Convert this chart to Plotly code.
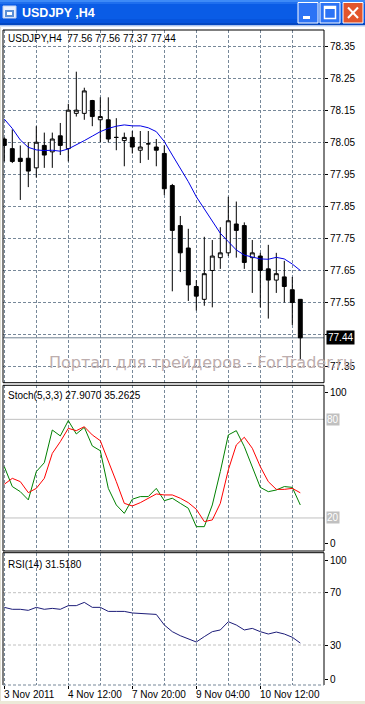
import plotly.graph_objects as go

W, H = 365, 704

# ---------------- data ----------------
bar_index = list(range(38))
opens = [78.06, 78.03, 78.00, 78.00, 77.97, 78.04, 78.02, 78.07, 78.03, 78.14,
         78.14, 78.18, 78.12, 78.12, 78.065, 78.055, 78.065, 78.025, 78.045, 78.035,
         78.015, 77.915, 77.79, 77.72, 77.60, 77.56, 77.65, 77.69, 77.705, 77.795,
         77.79, 77.69, 77.695, 77.655, 77.62, 77.63, 77.59, 77.56]
highs = [78.065, 78.09, 78.04, 78.05, 78.10, 78.08, 78.08, 78.11, 78.17, 78.27,
         78.22, 78.182, 78.19, 78.19, 78.125, 78.08, 78.085, 78.085, 78.085, 78.06,
         78.04, 77.92, 77.82, 77.78, 77.62, 77.755, 77.745, 77.785, 77.88, 77.865,
         77.80, 77.745, 77.705, 77.73, 77.705, 77.68, 77.63, 77.56]
lows = [77.99, 77.985, 77.87, 77.91, 77.94, 77.97, 77.97, 78.01, 77.99, 78.13,
        78.12, 78.10, 78.05, 78.05, 78.025, 77.975, 78.015, 77.985, 77.995, 77.975,
        77.885, 77.585, 77.645, 77.555, 77.525, 77.54, 77.535, 77.655, 77.695, 77.69,
        77.655, 77.58, 77.535, 77.50, 77.58, 77.55, 77.48, 77.37]
closes = [78.04, 77.99, 77.99, 77.96, 78.05, 78.01, 78.06, 78.04, 78.15, 78.15,
          78.21, 78.13, 78.13, 78.06, 78.065, 78.065, 78.035, 78.035, 78.045, 78.025,
          77.905, 77.775, 77.705, 77.605, 77.57, 77.64, 77.695, 77.705, 77.805, 77.775,
          77.675, 77.705, 77.65, 77.62, 77.64, 77.60, 77.55, 77.44]
ma_values = [78.122, 78.093, 78.057, 78.034, 78.026, 78.024, 78.025, 78.022, 78.029, 78.041,
             78.055, 78.069, 78.083, 78.093, 78.100, 78.104, 78.101, 78.101, 78.095, 78.083,
             78.052, 78.010, 77.969, 77.927, 77.880, 77.842, 77.802, 77.766, 77.740, 77.714,
             77.698, 77.693, 77.686, 77.685, 77.691, 77.686, 77.670, 77.650]
stoch_main = [51.2, 39.1, 36.0, 31.0, 48.2, 53.6, 73.5, 69.9, 79.2, 71.1,
              75.1, 63.8, 60.9, 38.0, 27.9, 22.8, 31.4, 33.0, 33.0, 38.0,
              30.5, 32.0, 28.9, 25.9, 14.7, 14.7, 27.9, 48.2, 70.5, 73.1,
              63.4, 51.2, 38.6, 36.0, 37.0, 39.1, 38.6, 27.9]
stoch_signal = [40.5, 44.1, 42.1, 35.4, 38.0, 44.1, 59.3, 66.4, 74.5, 73.1,
                75.5, 70.5, 67.0, 54.9, 42.1, 28.9, 27.3, 29.3, 32.0, 34.6,
                34.0, 34.0, 32.0, 29.3, 25.3, 17.8, 18.8, 28.9, 49.2, 64.4,
                69.1, 62.4, 51.2, 42.1, 37.4, 37.4, 38.0, 35.3]
rsi_values = [58.8, 57.3, 57.3, 56.5, 58.8, 57.3, 58.0, 57.3, 60.1, 60.1,
              62.6, 58.8, 58.8, 55.7, 55.7, 55.7, 54.5, 54.2, 54.2, 53.4,
              45.3, 40.2, 37.1, 34.6, 32.3, 36.4, 40.2, 41.5, 47.8, 45.3,
              41.5, 42.7, 40.2, 38.4, 39.9, 38.4, 35.9, 31.5]
stoch_levels = [80, 20]
rsi_levels = [70, 30]
time_tick_index = [0, 8, 16, 24, 32]
time_tick_labels = ["3 Nov 2011", "4 Nov 12:00", "7 Nov 20:00", "9 Nov 04:00", "10 Nov 12:00"]
grid_index = [0, 4, 8, 12, 16, 20, 24, 28, 32, 36]
price_ticks = [78.35, 78.25, 78.15, 78.05, 77.95, 77.85, 77.75, 77.65, 77.55, 77.45, 77.35]
price_tick_labels = ["78.35", "78.25", "78.15", "78.05", "77.95", "77.85", "77.75", "77.65", "77.55", "", "77.35"]
symbol_title = "USDJPY ,H4"
main_header = "USDJPY,H4\u00a0\u00a0{:.2f} {:.2f} {:.2f} {:.2f}".format(opens[-1], highs[-1], lows[-1], closes[-1])
stoch_header = "Stoch(5,3,3) 27.9070 35.2625"
rsi_header = "RSI(14) 31.5180"
watermark = "Портал для трейдеров - ForTrader.ru"

# ---------------- helpers ----------------
def px(a):
    return a / W


def py(a):
    return 1 - a / H


FONT = "Liberation Sans"
GRID = "#778899"
DASH = "3px,2px"

X0, X1 = 3, 324
MAIN = (30, 382.7)
STO = (385.3, 551)
RSI = (552.7, 685)

fig = go.Figure()

fig.add_trace(go.Candlestick(
    x=bar_index, open=opens, high=highs, low=lows, close=closes,
    increasing=dict(line=dict(color="black", width=1), fillcolor="white"),
    decreasing=dict(line=dict(color="black", width=1), fillcolor="black"),
    xaxis="x", yaxis="y", showlegend=False, hoverinfo="skip"))
fig.add_trace(go.Scatter(x=bar_index, y=ma_values, mode="lines",
                         line=dict(color="#0000e6", width=1), xaxis="x", yaxis="y",
                         showlegend=False, hoverinfo="skip"))
fig.add_trace(go.Scatter(x=bar_index, y=stoch_main, mode="lines",
                         line=dict(color="#008000", width=1), xaxis="x2", yaxis="y2",
                         showlegend=False, hoverinfo="skip"))
fig.add_trace(go.Scatter(x=bar_index, y=stoch_signal, mode="lines",
                         line=dict(color="#ff0000", width=1), xaxis="x2", yaxis="y2",
                         showlegend=False, hoverinfo="skip"))
fig.add_trace(go.Scatter(x=bar_index, y=rsi_values, mode="lines",
                         line=dict(color="#1c1c78", width=1), xaxis="x3", yaxis="y3",
                         showlegend=False, hoverinfo="skip"))

xrange = [-0.1625, 39.9625]
xcommon = dict(domain=[px(X0), px(X1)], range=xrange, showticklabels=False,
               tickmode="array", tickvals=grid_index, ticks="", showgrid=True,
               gridcolor=GRID, griddash=DASH, gridwidth=1, zeroline=False,
               showline=False, fixedrange=True)

fig.update_layout(
    width=W, height=H, margin=dict(l=0, r=0, t=0, b=0),
    paper_bgcolor="white", plot_bgcolor="white", showlegend=False,
    font=dict(family=FONT, size=10, color="black"),
    xaxis=dict(**xcommon, anchor="y", rangeslider=dict(visible=False)),
    xaxis2=dict(**xcommon, anchor="y2", matches="x"),
    xaxis3=dict(domain=[px(X0), px(X1)], range=xrange, anchor="y3", matches="x",
                showticklabels=False, tickmode="array", tickvals=time_tick_index,
                ticks="outside", ticklen=3, tickcolor="black", tickwidth=1,
                showgrid=True, gridcolor=GRID, griddash=DASH, gridwidth=1,
                minor=dict(tickmode="array", tickvals=grid_index, showgrid=True,
                           gridcolor=GRID, griddash=DASH, gridwidth=1, ticks=""),
                zeroline=False, showline=False, fixedrange=True),
    yaxis=dict(domain=[py(MAIN[1]), py(MAIN[0])], range=[77.30, 78.40], side="right",
               anchor="x", tickmode="array", tickvals=price_ticks, ticktext=price_tick_labels,
               ticks="outside", ticklen=3, tickcolor="black", tickwidth=1,
               showgrid=True, gridcolor=GRID, griddash=DASH, gridwidth=1,
               zeroline=False, tickfont=dict(size=10, family=FONT, color="black"),
               fixedrange=True),
    yaxis2=dict(domain=[py(STO[1]), py(STO[0])], range=[-0.1, 100.7], side="right",
                anchor="x2", tickmode="array", tickvals=[96.2, 4.2], ticktext=["100", "0"],
                ticks="outside", ticklen=3, tickcolor="black", showgrid=False,
                zeroline=False, tickfont=dict(size=10, family=FONT, color="black"),
                fixedrange=True),
    yaxis3=dict(domain=[py(RSI[1]), py(RSI[0])], range=[-0.6, 100.6], side="right",
                anchor="x3", tickmode="array", tickvals=[94.5, 70, 30, 3.7],
                ticktext=["100", "70", "30", "0"],
                ticks="outside", ticklen=3, tickcolor="black", showgrid=False,
                zeroline=False, tickfont=dict(size=10, family=FONT, color="black"),
                fixedrange=True),
)

shapes = []


def prect(x0, y0, x1, y1, fill=None, line=None, lw=0):
    d = dict(type="rect", xref="paper", yref="paper", x0=px(x0), x1=px(x1),
             y0=py(y1), y1=py(y0), layer="above")
    d["fillcolor"] = fill if fill else "rgba(0,0,0,0)"
    d["line"] = dict(color=line if line else "rgba(0,0,0,0)", width=lw)
    return d


def pline(x0, y0, x1, y1, color="black", w=1, dash=None):
    ln = dict(color=color, width=w)
    if dash:
        ln["dash"] = dash
    return dict(type="line", xref="paper", yref="paper", x0=px(x0), x1=px(x1),
                y0=py(y0), y1=py(y1), line=ln, layer="above")


# level lines
for lv in stoch_levels:
    shapes.append(dict(type="line", xref="x2 domain", yref="y2", x0=0, x1=1, y0=lv, y1=lv,
                       line=dict(color="#c0c0c0", width=1), layer="below"))
for lv in rsi_levels:
    shapes.append(dict(type="line", xref="x3 domain", yref="y3", x0=0, x1=1, y0=lv, y1=lv,
                       line=dict(color="#c0c0c0", width=1, dash="3px,2px"), layer="below"))
# bid line
shapes.append(dict(type="line", xref="x domain", yref="y", x0=0, x1=1, y0=closes[-1], y1=closes[-1],
                   line=dict(color="#708090", width=1), layer="below"))

# panel borders
for (t, b) in (MAIN, STO):
    shapes.append(prect(X0, t, X1, b, line="black", lw=1))
shapes.append(pline(X0, RSI[0], X1, RSI[0]))
shapes.append(pline(X0, RSI[0], X0, RSI[1]))
shapes.append(pline(X1, RSI[0], X1, RSI[1]))
shapes.append(pline(X0, RSI[1], X1, RSI[1], color=GRID, dash="3px,2px"))

# window chrome: title bar
bands = [(0, 2, "#3d8af7"), (2, 4, "#1f6fee"), (4, 19, "#0a5ce6"), (19, 23, "#0654dd"), (23, 25.5, "#0347c2")]
for (a, b, c) in bands:
    shapes.append(prect(0, a, W, b, fill=c))
shapes.append(prect(0, 25.5, W, 27, fill="#d8e4f8"))
shapes.append(prect(0, 701, W, H, fill="#ece9d8"))
shapes.append(prect(0, 27, 1, 701, fill="#e4e1d4"))
# icon
shapes.append(prect(3, 6, 16, 18, fill="#e8f0ff", line="#c0d0f0", lw=1))
shapes.append(prect(5, 10, 14, 17, fill="#5b8fd6"))
shapes.append(prect(7, 12, 12, 15, fill="white"))
# buttons
for bx in (298, 320):
    shapes.append(dict(type="rect", xref="paper", yref="paper", x0=px(bx), x1=px(bx + 20),
                       y0=py(23), y1=py(2.5), fillcolor="#2c73f5",
                       line=dict(color="white", width=1), layer="above"))
shapes.append(prect(303, 16, 310, 19, fill="white"))
shapes.append(prect(324.5, 6.5, 335.5, 18.5, line="white", lw=1.5))
shapes.append(prect(324.5, 6.5, 335.5, 9, fill="white"))
shapes.append(dict(type="rect", xref="paper", yref="paper", x0=px(343), x1=px(363),
                   y0=py(23), y1=py(2.5), fillcolor="#e2552c",
                   line=dict(color="white", width=1), layer="above"))
shapes.append(pline(348, 7.5, 358, 18, color="white", w=2))
shapes.append(pline(358, 7.5, 348, 18, color="white", w=2))

fig.update_layout(shapes=shapes)

ann = []


def ptext(x, y, text, size=10, color="black", bold=False, family=FONT, xanchor="left"):
    return dict(xref="paper", yref="paper", x=px(x), y=py(y), text=("<b>%s</b>" % text) if bold else text,
                showarrow=False, xanchor=xanchor, yanchor="middle",
                font=dict(size=size, color=color, family=family))


ann.append(ptext(20, 13, symbol_title, size=12.5, color="white", bold=True))
ann.append(ptext(6, 38.5, main_header))
ann.append(ptext(6, 395.5, stoch_header))
ann.append(ptext(6, 564, rsi_header))
ann.append(dict(xref="paper", yref="y", x=px(325.5), y=closes[-1], text=str(closes[-1]),
                showarrow=False, xanchor="left", yanchor="middle", bgcolor="black",
                borderpad=1, font=dict(size=10, color="white", family=FONT)))
for lv in stoch_levels:
    ann.append(dict(xref="paper", yref="y2", x=px(326), y=lv, text=str(lv), showarrow=False,
                    xanchor="left", yanchor="middle", bgcolor="#c0c0c0", borderpad=0,
                    font=dict(size=10, color="white", family=FONT)))
for i, lab in zip(time_tick_index, time_tick_labels):
    ann.append(dict(xref="x3", yref="paper", x=i, y=py(694.5), text=lab, showarrow=False,
                    xanchor="left", yanchor="middle", xshift=-2,
                    font=dict(size=10, color="black", family=FONT)))
ann.append(ptext(47, 362, watermark, size=16, color="#bdaeae", family="DejaVu Sans"))

fig.update_layout(annotations=ann)

fig.write_html(
    "out.html",
    config={"displayModeBar": False, "staticPlot": True},
    post_script="document.body.style.margin='0';document.body.style.padding='0';"
                "document.documentElement.style.overflow='hidden';",
)
